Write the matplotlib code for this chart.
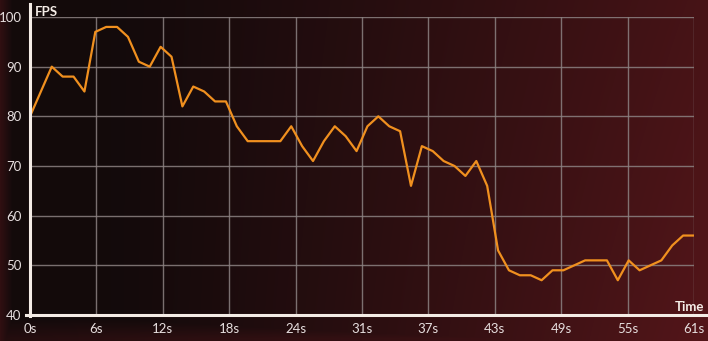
import numpy as np
import matplotlib.pyplot as plt

# frame rate sampled once per second
seconds = list(range(62))
fps = [80, 85, 90, 88, 88, 85, 97, 98, 98, 96,
       91, 90, 94, 92, 82, 86, 85, 83, 83, 78,
       75, 75, 75, 75, 78, 74, 71, 75, 78, 76,
       73, 78, 80, 78, 77, 66, 74, 73, 71, 70,
       68, 71, 66, 53, 49, 48, 48, 47, 49, 49,
       50, 51, 51, 51, 47, 51, 49, 50, 51, 54,
       56, 56]

y_ticks = [40, 50, 60, 70, 80, 90, 100]
x_tick_labels = ['0s', '6s', '12s', '18s', '24s', '31s', '37s', '43s', '49s', '55s', '61s']

LINE = '#f0901f'
GRID = '#8c8282'
TEXT = '#e6dede'
AXIS = '#f4ece6'

plt.rcParams['font.family'] = ['Lato', 'DejaVu Sans']

fig = plt.figure(figsize=(7.08, 3.41), dpi=100)

# background: near-black on the left, warming to dark red on the right,
# with a reddish rim on the left edge and below the time axis
H, W = 341, 708
px, py = np.meshgrid(np.arange(W) / W, np.arange(H) / H)
dark = np.array([0.075, 0.040, 0.043])
red = np.array([0.33, 0.085, 0.10])
w = np.clip((px - 0.15) / 0.85, 0, 1) ** 1.2 * (0.8 + 0.2 * py)
w = np.maximum(w, np.clip(1 - px * W / 12, 0, 1) * 0.45)
w = np.maximum(w, np.clip((py * H - 318) / 20, 0, 1) * (0.25 + 0.5 * px))
img = dark + (red - dark) * w[..., None]
bg = fig.add_axes([0, 0, 1, 1], zorder=-10)
bg.imshow(img, aspect='auto', extent=[0, 1, 0, 1], origin='upper')
bg.axis('off')

ax = fig.add_axes([30 / 708, 1 - 315 / 341, 664 / 708, 298 / 341])
ax.set_facecolor('none')
ax.plot(seconds, fps, color=LINE, linewidth=1.6, zorder=3)

ax.set_xlim(0, 61)
ax.set_ylim(40, 100)
x_ticks = np.linspace(0, 61, len(x_tick_labels))
ax.set_xticks(x_ticks)
ax.set_xticklabels(x_tick_labels)
ax.set_yticks(y_ticks)
ax.grid(True, color=GRID, linewidth=1.0, alpha=0.85)
ax.tick_params(length=0, colors=TEXT, labelsize=9.5)
ax.tick_params(axis='x', pad=6)
ax.tick_params(axis='y', pad=6)
for s in ax.spines.values():
    s.set_visible(False)

# axis lines: left one runs a little above the top, bottom one across the figure
fig.add_artist(plt.Line2D([30 / 708, 30 / 708], [1 - 316 / 341, 1 - 4 / 341],
                          color=AXIS, linewidth=2.2))
fig.add_artist(plt.Line2D([26 / 708, 1], [1 - 315 / 341, 1 - 315 / 341],
                          color=AXIS, linewidth=2.2))

fig.text(35 / 708, 1 - 12 / 341, 'FPS', color=AXIS, fontsize=9.5, fontweight='bold',
         ha='left', va='center')
fig.text(704 / 708, 1 - 307 / 341, 'Time', color=AXIS, fontsize=9.5, fontweight='bold',
         ha='right', va='center')

fig.savefig('out.png', dpi=100)
